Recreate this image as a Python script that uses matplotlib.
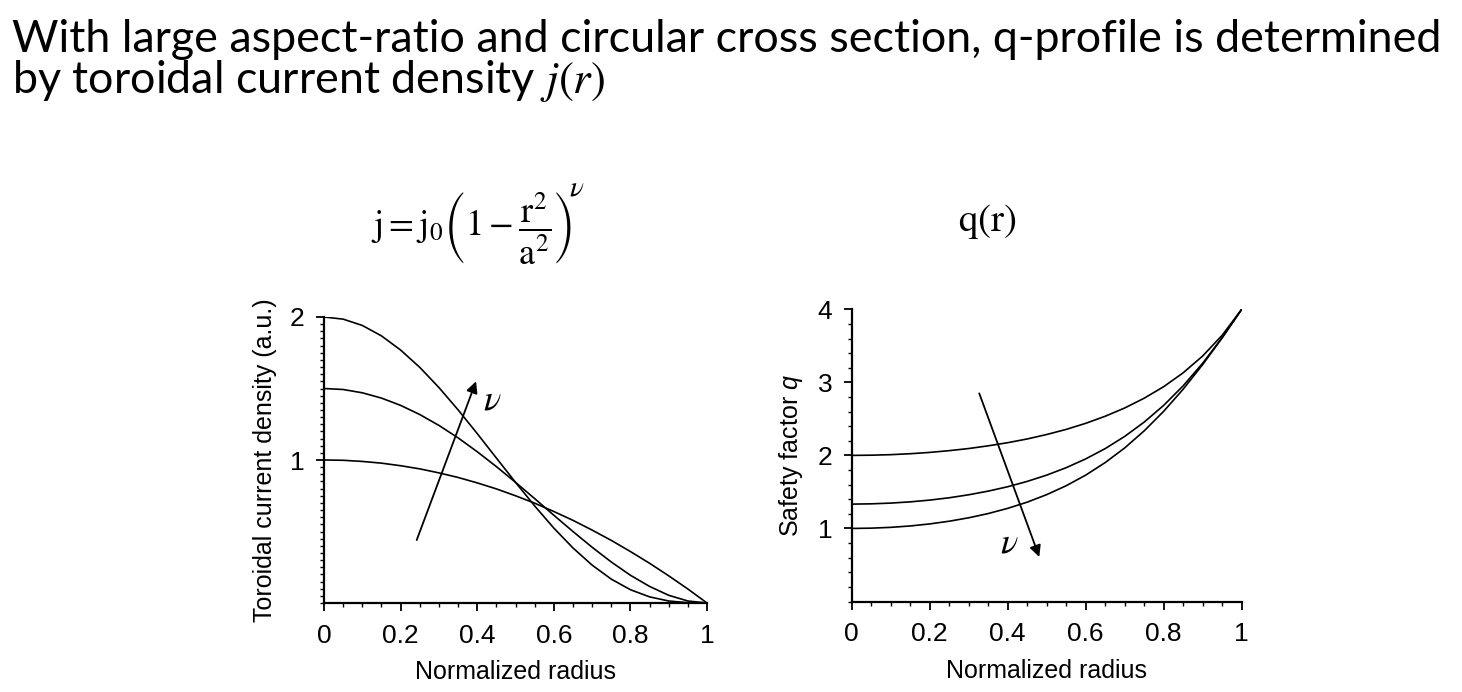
import matplotlib
matplotlib.use("Agg")
import matplotlib.pyplot as plt
from matplotlib.ticker import MultipleLocator

plt.rcParams['font.family'] = ['Liberation Sans', 'DejaVu Sans']
plt.rcParams['mathtext.fontset'] = 'custom'
plt.rcParams['mathtext.rm'] = 'Liberation Sans'
plt.rcParams['mathtext.it'] = 'Liberation Sans:italic'

# ---- data ----
radius = [0.00, 0.05, 0.10, 0.15, 0.20, 0.25, 0.30, 0.35, 0.40, 0.45, 0.50,
          0.55, 0.60, 0.65, 0.70, 0.75, 0.80, 0.85, 0.90, 0.95, 1.00]

j_low = [1.000, 0.998, 0.990, 0.978, 0.960, 0.938, 0.910, 0.878, 0.840, 0.798, 0.750,
         0.698, 0.640, 0.578, 0.510, 0.438, 0.360, 0.278, 0.190, 0.098, 0.000]
j_mid = [1.500, 1.493, 1.470, 1.433, 1.382, 1.318, 1.242, 1.155, 1.058, 0.954, 0.844,
         0.730, 0.614, 0.500, 0.390, 0.287, 0.194, 0.116, 0.054, 0.014, 0.000]
j_top = [2.000, 1.985, 1.941, 1.868, 1.769, 1.648, 1.507, 1.351, 1.185, 1.014, 0.844,
         0.679, 0.524, 0.385, 0.265, 0.167, 0.093, 0.043, 0.014, 0.002, 0.000]

q_top = [2.000, 2.003, 2.010, 2.023, 2.041, 2.065, 2.094, 2.131, 2.174, 2.225, 2.286,
         2.356, 2.439, 2.536, 2.649, 2.783, 2.941, 3.131, 3.361, 3.645, 4.000]
q_mid = [1.333, 1.337, 1.347, 1.364, 1.388, 1.420, 1.461, 1.511, 1.571, 1.644, 1.730,
         1.832, 1.952, 2.093, 2.260, 2.456, 2.685, 2.953, 3.262, 3.613, 4.000]
q_low = [1.000, 1.004, 1.015, 1.034, 1.062, 1.099, 1.146, 1.204, 1.275, 1.360, 1.463,
         1.585, 1.730, 1.902, 2.102, 2.336, 2.604, 2.907, 3.244, 3.610, 4.000]

x_ticks = [0, 0.2, 0.4, 0.6, 0.8, 1]
x_ticklabels = ['0', '0.2', '0.4', '0.6', '0.8', '1']
j_ticks = [1, 2]
q_ticks = [1, 2, 3, 4]

j_arrow = [(0.242, 0.44), (0.397, 1.55)]
q_arrow = [(0.327, 2.85), (0.481, 0.61)]

# ---- figure ----
fig = plt.figure(figsize=(14.62, 6.92), dpi=100)

fig.text(12 / 1462, 1 - 52 / 692,
         "With large aspect-ratio and circular cross section, q-profile is determined",
         fontsize=32.3, family=['Lato', 'DejaVu Sans'], ha='left', va='baseline')
fig.text(12 / 1462, 1 - 93 / 692,
         "by toroidal current density $j(r)$",
         fontsize=32.3, family=['Lato', 'DejaVu Sans'], ha='left', va='baseline',
         math_fontfamily='stix')

fig.text(472 / 1462, 1 - 228 / 692,
         r'$\mathrm{j}=\mathrm{j}_0\left(1-\dfrac{\mathrm{r}^2}{\mathrm{a}^2}\right)$',
         fontsize=26, ha='center', va='center', math_fontfamily='stix')
fig.text(577 / 1462, 1 - 188 / 692, r'$\nu$',
         fontsize=21, ha='center', va='center', math_fontfamily='stix')
fig.text(987 / 1462, 1 - 222 / 692, r'$\mathrm{q(r)}$',
         fontsize=28, ha='center', va='center', math_fontfamily='stix')

axL = fig.add_axes([324 / 1462, 1 - 603 / 692, 383 / 1462, 286 / 692])
axR = fig.add_axes([851.7 / 1462, 1 - 601.5 / 692, 390 / 1462, 292.2 / 692])

lw = 1.2
for y in (j_low, j_mid, j_top):
    axL.plot(radius, y, color='black', lw=lw, solid_capstyle='round')
for y in (q_top, q_mid, q_low):
    axR.plot(radius, y, color='black', lw=lw, solid_capstyle='round')

axL.set_xlim(0, 1)
axL.set_ylim(0, 2)
axR.set_xlim(0, 1)
axR.set_ylim(0, 4)

for ax in (axL, axR):
    for s in ('top', 'right'):
        ax.spines[s].set_visible(False)
    for s in ('left', 'bottom'):
        ax.spines[s].set_linewidth(1.6)
    ax.set_xticks(x_ticks)
    ax.set_xticklabels(x_ticklabels)
    ax.xaxis.set_minor_locator(MultipleLocator(0.05))
    ax.tick_params(which='major', direction='out', length=6, width=1.3,
                   labelsize=19, pad=9)
    ax.tick_params(which='minor', direction='out', length=3, width=1.0)
    ax.set_xlabel('Normalized radius', fontsize=18, labelpad=9)

axL.set_yticks(j_ticks)
axL.yaxis.set_minor_locator(MultipleLocator(0.05))
axL.set_ylabel('Toroidal current density (a.u.)', fontsize=18, labelpad=9)
axL.tick_params(axis='y', which='major', pad=8)

axR.set_yticks(q_ticks)
axR.yaxis.set_minor_locator(MultipleLocator(0.2))
axR.set_ylabel('Safety factor $q$', fontsize=18, labelpad=9)
axR.tick_params(axis='y', which='major', pad=8)

arrow_kw = dict(arrowstyle='-|>', color='black', lw=1.3, mutation_scale=17,
                shrinkA=0, shrinkB=0)
axL.annotate('', xy=j_arrow[1], xytext=j_arrow[0], arrowprops=arrow_kw)
axR.annotate('', xy=q_arrow[1], xytext=q_arrow[0], arrowprops=arrow_kw)
axL.text(0.44, 1.42, r'$\nu$', fontsize=26, ha='center', va='center',
         math_fontfamily='stix')
axR.text(0.405, 0.80, r'$\nu$', fontsize=26, ha='center', va='center',
         math_fontfamily='stix')

fig.savefig('out.png', dpi=100)
